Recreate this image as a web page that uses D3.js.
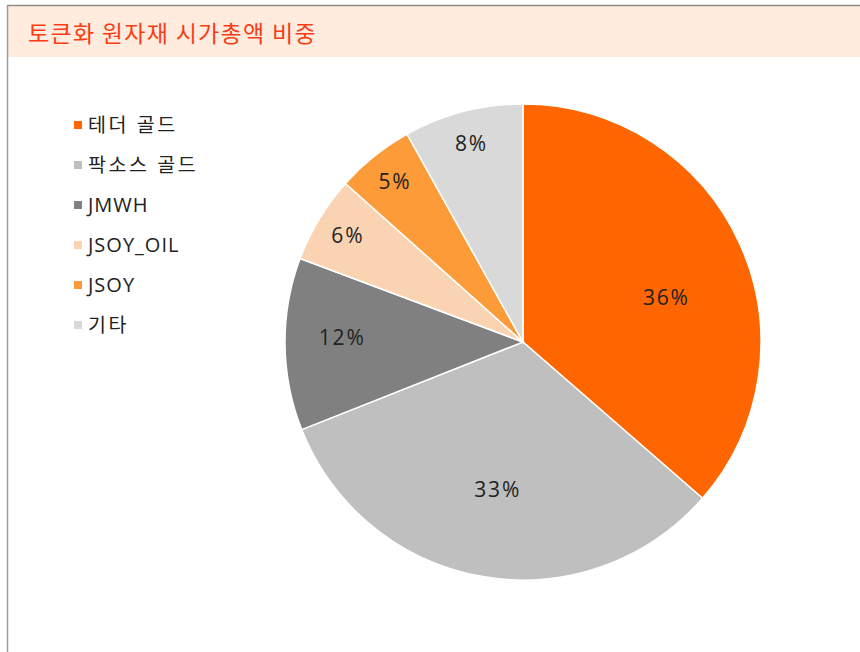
<!DOCTYPE html>
<html><head><meta charset="utf-8">
<script src="https://cdn.jsdelivr.net/npm/d3@7"></script>
<style>
html,body{margin:0;padding:0;background:#fff;}
svg{display:block;font-family:"Open Sans","Noto Sans CJK KR","Noto Sans",sans-serif;}
</style></head>
<body>
<svg id="chart" width="860" height="652"></svg>
<script>
const title = "토큰화 원자재 시가총액 비중";
const categories = ["테더 골드", "팍소스 골드", "JMWH", "JSOY_OIL", "JSOY", "기타"];
const values = [36.4, 32.6, 11.7, 5.9, 5.3, 8.1];
const labels = ["36%", "33%", "12%", "6%", "5%", "8%"];
const colors = ["#FF6600", "#BFBFBF", "#808080", "#FAD4B2", "#FC9B37", "#D9D9D9"];

const svg = d3.select("#chart");
const W = 860, H = 652;

// frame and title band
svg.append("rect").attr("x", 8).attr("y", 6).attr("width", W - 8).attr("height", 51).attr("fill", "#FFECDE");
svg.append("line").attr("x1", 7).attr("x2", W).attr("y1", 5.5).attr("y2", 5.5).attr("stroke", "#8c8c8c").attr("stroke-width", 1.5);
svg.append("line").attr("x1", 7.5).attr("x2", 7.5).attr("y1", 5).attr("y2", H).attr("stroke", "#9a9a9a").attr("stroke-width", 1.5);
svg.append("text").attr("x", 28).attr("y", 42).attr("fill", "#FA3C14")
  .attr("font-family", "'Noto Sans CJK KR', sans-serif")
  .attr("font-size", 23).attr("letter-spacing", 1.3).text(title);

// pie
const cx = 523, cy = 342, R = 238;
const pie = d3.pie().sort(null).value(d => d)(values);
const arc = d3.arc().innerRadius(0).outerRadius(R);
const g = svg.append("g").attr("transform", `translate(${cx},${cy})`);
g.selectAll("path").data(pie).join("path")
  .attr("d", arc)
  .attr("fill", (d, i) => colors[i])
  .attr("stroke", "#fff").attr("stroke-width", 1.5);

function labelRadius(d) {
  const frac = (d.endAngle - d.startAngle) / (2 * Math.PI);
  if (frac > 0.3) return R * 0.63;
  if (frac > 0.1) return R * 0.76;
  return R * 0.86;
}
const angleNudge = [0.13, 0, 0.03, 0, 0, 0];
g.selectAll("text.lbl").data(pie).join("text")
  .attr("class", "lbl")
  .attr("x", (d, i) => { const a = (d.startAngle + d.endAngle) / 2 + angleNudge[i]; return Math.sin(a) * labelRadius(d); })
  .attr("y", (d, i) => { const a = (d.startAngle + d.endAngle) / 2 + angleNudge[i]; return -Math.cos(a) * labelRadius(d) + 7; })
  .attr("text-anchor", "middle")
  .attr("font-size", 21).attr("letter-spacing", 1.8).attr("fill", "#222")
  .text((d, i) => labels[i]);

// legend
const hangul = /[\uAC00-\uD7A3]/;
const lg = svg.append("g").attr("transform", "translate(74,125)");
const items = lg.selectAll("g").data(categories).join("g")
  .attr("transform", (d, i) => `translate(0,${i * 40})`);
items.append("rect").attr("x", 0).attr("y", -4).attr("width", 8).attr("height", 8)
  .attr("fill", (d, i) => colors[i]);
items.append("text").attr("x", 14).attr("y", 7)
  .attr("font-size", d => hangul.test(d) ? 19.5 : 20)
  .attr("letter-spacing", d => hangul.test(d) ? 2.6 : 1)
  .attr("fill", "#222").text(d => d);
</script>
</body></html>
